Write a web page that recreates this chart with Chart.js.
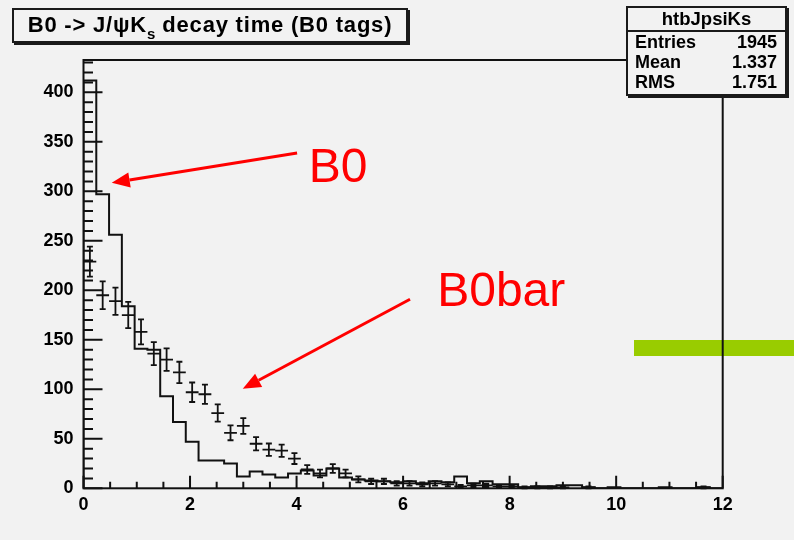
<!DOCTYPE html>
<html>
<head>
<meta charset="utf-8">
<title>B0 -> J/psi Ks decay time</title>
<script src="https://cdn.jsdelivr.net/npm/chart.js@4.4.1/dist/chart.umd.min.js"></script>
<style>
  html, body { margin: 0; padding: 0; background: #f2f2f2; }
  #wrap { position: relative; width: 794px; height: 540px; overflow: hidden; background: #f2f2f2; }
  #band { position: absolute; left: 634px; top: 340px; width: 160px; height: 16px; background: #99cc00; }
  #plot { position: absolute; left: 0; top: 0; }
  .box {
    position: absolute; box-sizing: border-box; background: #f2f2f2;
    border: 2px solid #1a1a1a; box-shadow: 2px 2px 0 #1a1a1a;
    font-family: "Liberation Sans", Arial, sans-serif; font-weight: bold; color: #000;
  }
  #title { left: 12px; top: 8px; width: 396px; height: 35px; font-size: 22px; letter-spacing: 0.8px; line-height: 30px; text-align: center; white-space: nowrap; }
  #title sub { font-size: 15px; line-height: 0; vertical-align: -7px; letter-spacing: 0; }
  #stats { left: 626px; top: 6px; width: 161px; height: 90px; font-size: 18px; }
  #stats .head { height: 22px; line-height: 22px; text-align: center; border-bottom: 2px solid #1a1a1a; font-size: 18.5px; }
  #stats .row { position: relative; height: 20px; line-height: 20px; padding: 0 8px 0 7px; }
  #stats .row span:last-child { position: absolute; right: 8px; }
</style>
</head>
<body>
<div id="wrap">
  <div id="band"></div>
  <canvas id="plot" width="794" height="540"></canvas>
  <div id="title" class="box">B0 -&gt; J/&psi;K<sub>s</sub> decay time (B0 tags)</div>
  <div id="stats" class="box"><div class="head" id="statsName"></div><div id="statsRows"></div></div>
</div>
<script>
// Histogram binning: 50 bins on [0, 12]
const xMin = 0;
const xMax = 12;
const nBins = 50;

// B0-tagged events per bin (solid histogram)
const b0Counts = [
  412, 297, 256, 184, 141, 140, 93, 67, 47, 28,
  28, 25, 12, 17, 14, 11, 15, 18, 13, 20,
  11, 9, 8, 7, 6, 7, 5, 7, 6, 12,
  5, 7, 4, 4, 1, 2, 2, 3, 3, 1,
  0, 1, 0, 0, 0, 1, 0, 0, 1, 0
];

// B0bar-tagged events per bin (points with errors)
const b0barCounts = [
  229, 195, 189, 175, 158, 136, 130, 117, 97, 95,
  76, 56, 63, 45, 39, 38, 30, 19, 15, 20,
  15, 9, 7, 7, 5, 5, 4, 5, 4, 2,
  3, 3, 2, 2, 1, 1, 1, 1, 0, 1,
  0, 0, 0, 0, 0, 0, 0, 0, 1, 0
];

// Axis ticks
const xTickValues = [0, 2, 4, 6, 8, 10, 12];
const yTickValues = [0, 50, 100, 150, 200, 250, 300, 350, 400];

// Statistics box
const statsName = 'htbJpsiKs';
const statsLabels = ['Entries', 'Mean', 'RMS'];
const statsValues = ['1945', '1.337', '1.751'];

// Annotation labels and arrows (data coordinates)
const noteLabels = [
  { text: 'B0', x: 4.23, y: 309 },
  { text: 'B0bar', x: 6.64, y: 184 }
];
const noteArrows = [
  { from: [4.01, 338.6], to: [0.53, 308.5] },
  { from: [6.13, 191], to: [2.99, 100.5] }
];

const yMax = Math.max(...b0Counts) * 1.05;
const binWidth = (xMax - xMin) / nBins;

// Stats box text
document.getElementById('statsName').textContent = statsName;
const rowsEl = document.getElementById('statsRows');
statsLabels.forEach((lab, i) => {
  const r = document.createElement('div');
  r.className = 'row';
  const a = document.createElement('span'); a.textContent = lab;
  const b = document.createElement('span'); b.textContent = statsValues[i];
  r.appendChild(a); r.appendChild(b);
  rowsEl.appendChild(r);
});

// Step outline: each bin value placed at its lower edge, closed at the upper limit
const stepData = [{ x: xMin, y: 0 }];
b0Counts.forEach((v, i) => stepData.push({ x: xMin + i * binWidth, y: v }));
stepData.push({ x: xMax, y: b0Counts[nBins - 1] });
stepData.push({ x: xMax, y: 0 });

// Bar-tagged points at bin centres (empty bins are not drawn)
const pointData = [];
b0barCounts.forEach((v, i) => {
  if (v > 0) pointData.push({ x: xMin + (i + 0.5) * binWidth, y: v });
});

const INK = '#111';
const FONT = '"Liberation Sans", Arial, sans-serif';

// Frame and inward-pointing tick marks
const frameTicks = {
  id: 'frameTicks',
  afterDatasetsDraw(chart) {
    const { ctx, chartArea: a, scales: { x, y } } = chart;
    ctx.save();
    ctx.strokeStyle = INK;
    ctx.lineWidth = 2;
    ctx.beginPath();
    for (let v = 0; v <= yMax; v += 10) {
      const py = y.getPixelForValue(v);
      const len = v % 50 === 0 ? 19 : 9.5;
      ctx.moveTo(a.left, py); ctx.lineTo(a.left + len, py);
    }
    for (let k = 0; k <= 24; k++) {
      const px = x.getPixelForValue(k * 0.5);
      const len = k % 4 === 0 ? 12.5 : 6.5;
      ctx.moveTo(px, a.bottom); ctx.lineTo(px, a.bottom - len);
    }
    ctx.stroke();
    ctx.strokeRect(a.left, a.top, a.right - a.left, a.bottom - a.top);
    ctx.restore();
  }
};

// Error crosses for the points dataset: horizontal = bin width, vertical = sqrt(N)
const errorCrosses = {
  id: 'errorCrosses',
  afterDatasetsDraw(chart) {
    const { ctx, scales: { x, y } } = chart;
    const ds = chart.data.datasets[1];
    ctx.save();
    ctx.strokeStyle = INK;
    ctx.lineWidth = 1.8;
    ctx.beginPath();
    ds.data.forEach(p => {
      const e = Math.sqrt(p.y);
      const cx = x.getPixelForValue(p.x);
      const cy = y.getPixelForValue(p.y);
      const x1 = x.getPixelForValue(p.x - binWidth / 2);
      const x2 = x.getPixelForValue(p.x + binWidth / 2);
      const yLo = y.getPixelForValue(Math.max(0, p.y - e));
      const yHi = y.getPixelForValue(p.y + e);
      ctx.moveTo(x1, cy); ctx.lineTo(x2, cy);
      ctx.moveTo(cx, yLo); ctx.lineTo(cx, yHi);
      ctx.moveTo(cx - 3, yLo); ctx.lineTo(cx + 3, yLo);
      ctx.moveTo(cx - 3, yHi); ctx.lineTo(cx + 3, yHi);
    });
    ctx.stroke();
    ctx.restore();
  }
};

// Red labels and arrows
const notes = {
  id: 'notes',
  afterDraw(chart) {
    const { ctx, scales: { x, y } } = chart;
    ctx.save();
    ctx.fillStyle = '#ff0000';
    ctx.strokeStyle = '#ff0000';
    ctx.font = '48px ' + FONT;
    ctx.textBaseline = 'alphabetic';
    noteLabels.forEach(n => ctx.fillText(n.text, x.getPixelForValue(n.x), y.getPixelForValue(n.y)));
    noteArrows.forEach(a => {
      const x0 = x.getPixelForValue(a.from[0]), y0 = y.getPixelForValue(a.from[1]);
      const x1 = x.getPixelForValue(a.to[0]), y1 = y.getPixelForValue(a.to[1]);
      const ang = Math.atan2(y1 - y0, x1 - x0);
      const headLen = 18, headHalf = 7.5;
      const bx = x1 - headLen * Math.cos(ang), by = y1 - headLen * Math.sin(ang);
      ctx.lineWidth = 3;
      ctx.beginPath();
      ctx.moveTo(x0, y0); ctx.lineTo(bx, by);
      ctx.stroke();
      ctx.beginPath();
      ctx.moveTo(x1, y1);
      ctx.lineTo(bx + headHalf * Math.sin(ang), by - headHalf * Math.cos(ang));
      ctx.lineTo(bx - headHalf * Math.sin(ang), by + headHalf * Math.cos(ang));
      ctx.closePath();
      ctx.fill();
    });
    ctx.restore();
  }
};

const tickFont = { family: FONT, weight: 'bold', size: 18 };

new Chart(document.getElementById('plot'), {
  data: {
    datasets: [
      {
        type: 'line',
        label: 'B0',
        data: stepData,
        stepped: 'before',
        borderColor: INK,
        borderWidth: 2,
        pointRadius: 0,
        fill: false,
        tension: 0
      },
      {
        type: 'scatter',
        label: 'B0bar',
        data: pointData,
        pointRadius: 0,
        borderColor: INK,
        backgroundColor: INK
      }
    ]
  },
  options: {
    responsive: false,
    animation: false,
    events: [],
    layout: { padding: { top: 60, right: 71.3, bottom: 0, left: 0 } },
    plugins: { legend: { display: false }, tooltip: { enabled: false } },
    scales: {
      x: {
        type: 'linear',
        min: xMin,
        max: xMax,
        afterFit(s) { s.height = 51.7; },
        afterBuildTicks(s) { s.ticks = xTickValues.map(v => ({ value: v })); },
        ticks: { font: tickFont, color: '#000', padding: -2, maxRotation: 0 },
        grid: { display: false },
        border: { display: false }
      },
      y: {
        type: 'linear',
        min: 0,
        max: yMax,
        afterFit(s) { s.width = 83.5; },
        afterBuildTicks(s) { s.ticks = yTickValues.map(v => ({ value: v })); },
        ticks: { font: tickFont, color: '#000', padding: 2 },
        grid: { display: false },
        border: { display: false }
      }
    }
  },
  plugins: [frameTicks, errorCrosses, notes]
});
</script>
</body>
</html>
